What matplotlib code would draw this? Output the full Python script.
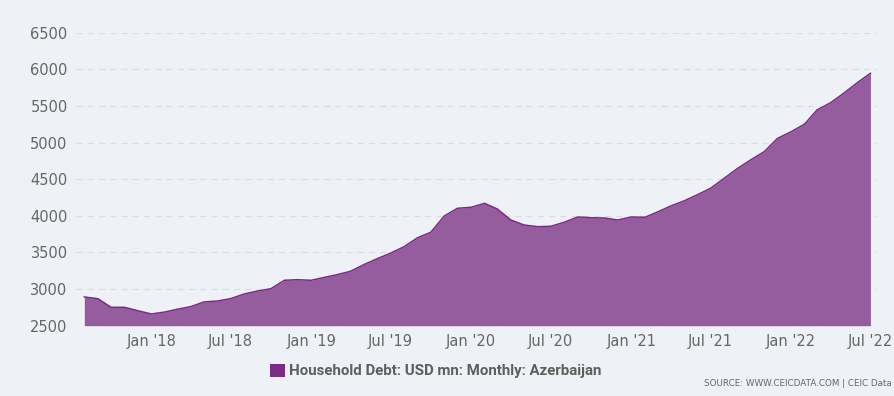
import numpy as np
import pandas as pd
import matplotlib
matplotlib.use("Agg")
import matplotlib.pyplot as plt
import matplotlib.dates as mdates
from matplotlib.patches import Patch

# household debt, USD mn, monthly, Aug 2017 - Jul 2022
debt = [2892, 2869, 2751, 2751, 2705,                                   # 2017
        2660, 2687, 2724, 2760, 2824, 2837, 2869, 2933, 2974, 3005, 3120, 3128,  # 2018
        3120, 3161, 3196, 3243, 3333, 3415, 3490, 3578, 3701, 3775, 3998, 4103,  # 2019
        4116, 4171, 4093, 3943, 3875, 3852, 3857, 3912, 3985, 3974, 3970, 3943,  # 2020
        3984, 3980, 4050, 4134, 4203, 4288, 4376, 4512, 4649, 4765, 4878, 5058,  # 2021
        5148, 5254, 5445, 5544, 5673, 5817, 5946]                        # 2022
start_month = "2017-08-01"
y_ticks = [2500, 3000, 3500, 4000, 4500, 5000, 5500, 6000, 6500]
series_name = "Household Debt: USD mn: Monthly: Azerbaijan"
source = "SOURCE: WWW.CEICDATA.COM | CEIC Data"

months = pd.date_range(start_month, periods=len(debt), freq="MS")

bg = "#EEF2F6"
fill_col = "#955D9D"
line_col = "#7A2A85"
txt_col = "#666666"

fig = plt.figure(figsize=(8.95, 3.96), dpi=100, facecolor=bg)
ax = fig.add_axes([76 / 895, 1 - 325.7 / 396, (877 - 76) / 895, (325.7 - 32.7) / 396])
ax.set_facecolor(bg)

ax.fill_between(months, debt, y_ticks[0], color=fill_col, lw=0, zorder=2)
ax.plot(months, debt, color=line_col, lw=1.1, zorder=3)

ax.set_ylim(y_ticks[0], y_ticks[-1])
ax.set_yticks(y_ticks)
ax.set_xlim(months[0] - pd.Timedelta(days=19), months[-1] + pd.Timedelta(days=15))
ax.xaxis.set_major_locator(mdates.MonthLocator(bymonth=[1, 7]))
ax.xaxis.set_major_formatter(mdates.DateFormatter("%b '%y"))

ax.grid(axis="y", color="#DCDCDC", lw=0.9, linestyle=(0, (5, 4)), zorder=0)
ax.set_axisbelow(True)
for s in ax.spines.values():
    s.set_visible(False)
ax.tick_params(axis="both", length=0, labelsize=10.5, labelcolor=txt_col)
ax.tick_params(axis="y", pad=6)
ax.tick_params(axis="x", pad=6)

fig.legend(handles=[Patch(facecolor="#7B2D86", edgecolor="none")], labels=[series_name],
           loc="center", bbox_to_anchor=(436 / 895, 1 - 371 / 396), frameon=False,
           handlelength=1.0, handleheight=1.0, handletextpad=0.25,
           prop={"family": "Roboto", "weight": "bold", "size": 10.8}, labelcolor="#5E5E5E")

fig.text(892 / 895, 1 - 384 / 396, source, ha="right", va="center", fontsize=6.3, color=txt_col)

fig.savefig("out.png", dpi=100, facecolor=bg)
